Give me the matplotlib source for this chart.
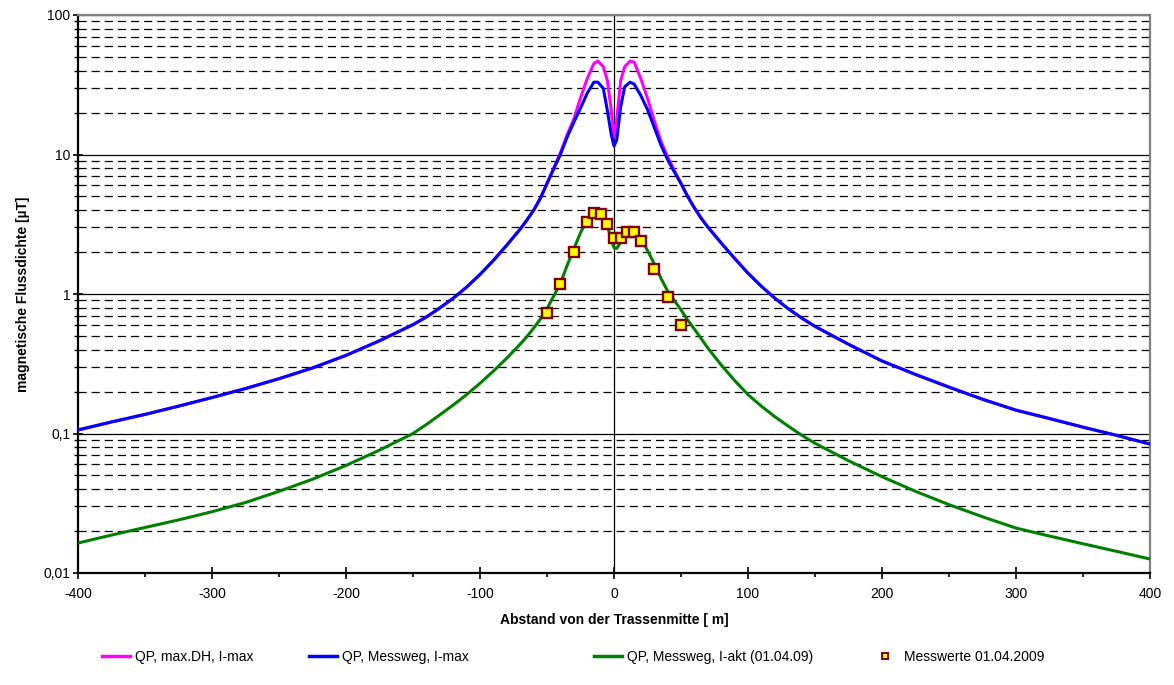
import matplotlib.pyplot as plt
from matplotlib.ticker import FixedLocator, FuncFormatter, MultipleLocator
from matplotlib.lines import Line2D

plt.rcParams['font.family'] = ['Liberation Sans', 'DejaVu Sans']
plt.rcParams['axes.unicode_minus'] = False

# Abstand von der Trassenmitte [m]
abstand = [-400, -375, -350, -325, -300, -275, -250, -225, -200, -175, -150,
           -140, -130, -120, -110, -100, -90, -80,
           -70, -65, -60, -55, -50, -45, -40, -35, -30, -25, -20, -15,
           -12, -8, -5, -2, 0, 2, 5, 8, 12,
           15, 20, 25, 30, 35, 40, 45, 50, 55, 60, 65, 70,
           80, 90, 100, 110, 120, 130, 140,
           150, 175, 200, 225, 250, 275, 300, 325, 350, 375, 400]

# QP, max.DH, I-max
b_maxdh = [0.106, 0.121, 0.137, 0.157, 0.181, 0.21, 0.247, 0.295, 0.363, 0.462, 0.603,
           0.684, 0.794, 0.933, 1.12, 1.38, 1.74, 2.24,
           2.92, 3.39, 3.98, 4.84, 6.2, 8.0, 10.3, 13.8, 18.0, 25.5, 35.0, 45.0,
           46.8, 42.6, 34.0, 20.8, 13.3, 17.7, 34.0, 42.6, 46.8,
           46.0, 35.0, 25.3, 17.5, 12.5, 9.6, 7.7, 6.2, 5.0, 4.14, 3.5, 3.02,
           2.32, 1.8, 1.41, 1.135, 0.933, 0.785, 0.673,
           0.586, 0.436, 0.331, 0.265, 0.215, 0.176, 0.147, 0.128, 0.111, 0.097, 0.084]

# QP, Messweg, I-max
b_imax = [0.106, 0.121, 0.137, 0.157, 0.181, 0.21, 0.247, 0.295, 0.363, 0.462, 0.603,
          0.684, 0.794, 0.933, 1.12, 1.38, 1.74, 2.24,
          2.92, 3.39, 3.98, 4.84, 6.2, 7.87, 10.0, 13.3, 17.0, 21.5, 27.5, 33.0,
          33.0, 29.8, 20.8, 13.8, 11.5, 12.7, 22.0, 30.6, 33.0,
          32.0, 26.5, 21.0, 15.7, 11.7, 9.2, 7.5, 6.2, 5.0, 4.14, 3.5, 3.02,
          2.32, 1.8, 1.41, 1.135, 0.933, 0.785, 0.673,
          0.586, 0.436, 0.331, 0.265, 0.215, 0.176, 0.147, 0.128, 0.111, 0.097, 0.084]

# QP, Messweg, I-akt (01.04.09)
b_iakt = [0.0164, 0.0187, 0.0212, 0.024, 0.0275, 0.032, 0.0385, 0.047, 0.059, 0.076, 0.1,
          0.116, 0.136, 0.16, 0.19, 0.229, 0.28, 0.347,
          0.437, 0.495, 0.569, 0.66, 0.785, 0.966, 1.19, 1.6, 2.1, 2.75, 3.4, 3.9,
          3.95, 3.65, 3.1, 2.45, 2.15, 2.12, 2.35, 2.65, 2.85,
          2.8, 2.5, 2.05, 1.65, 1.3, 1.05, 0.9, 0.77, 0.65, 0.56, 0.48, 0.41,
          0.31, 0.24, 0.19, 0.157, 0.132, 0.113, 0.0973,
          0.0851, 0.0638, 0.049, 0.0385, 0.0309, 0.0253, 0.021, 0.0184, 0.0162, 0.0143, 0.0126]

# Messwerte 01.04.2009
mess_x = [-50, -40, -30, -20, -15, -10, -5, 0, 5, 10, 15, 20, 30, 40, 50]
mess_y = [0.73, 1.17, 2.0, 3.3, 3.8, 3.75, 3.15, 2.5, 2.5, 2.8, 2.8, 2.4, 1.5, 0.95, 0.6]

W, H = 1174, 685
fig = plt.figure(figsize=(W / 100, H / 100), dpi=100)
ax = fig.add_axes([78 / W, 1 - 573 / H, (1150 - 78) / W, (573 - 15) / H])

ax.set_yscale('log')
ax.set_xlim(-400, 400)
ax.set_ylim(0.01, 100)

# Gitternetz
ax.yaxis.set_major_locator(FixedLocator([0.01, 0.1, 1, 10, 100]))
minors = [m * d for d in [0.01, 0.1, 1, 10] for m in range(2, 10)]
ax.yaxis.set_minor_locator(FixedLocator(minors))
ax.yaxis.set_major_formatter(FuncFormatter(lambda v, p: f"{v:g}".replace('.', ',')))
ax.yaxis.set_minor_formatter(FuncFormatter(lambda v, p: ''))
ax.grid(which='major', axis='y', color='black', lw=0.9, ls='-')
ax.grid(which='minor', axis='y', color='black', lw=0.9, ls=(0, (6.5, 4)))
ax.axvline(0, color='black', lw=0.9, zorder=1.5)

ax.xaxis.set_major_locator(MultipleLocator(100))
ax.xaxis.set_minor_locator(MultipleLocator(50))
ax.tick_params(axis='x', which='major', direction='inout', length=8, width=1.2, labelsize=10, pad=6)
ax.tick_params(axis='x', which='minor', direction='out', length=3, width=1.2)
ax.tick_params(axis='y', which='major', direction='inout', length=7, width=1.2, labelsize=10, pad=2)
ax.tick_params(axis='y', which='minor', direction='out', length=3, width=1.0)

for s in ['left', 'bottom']:
    ax.spines[s].set_color('black')
    ax.spines[s].set_linewidth(1.6)
for s in ['top', 'right']:
    ax.spines[s].set_color('#808080')
    ax.spines[s].set_linewidth(1.6)

ax.plot(abstand, b_maxdh, color='#FF00FF', lw=2.2, zorder=3)
ax.plot(abstand, b_imax, color='#0000FF', lw=2.2, zorder=4)
ax.plot(abstand, b_iakt, color='#008000', lw=2.2, zorder=4)
ax.plot(mess_x, mess_y, ls='none', marker='s', ms=6.5, mfc='yellow', mec='#800000', mew=1.7, zorder=5)

ax.set_xlabel('Abstand von der Trassenmitte [ m]', fontsize=10, fontweight='bold', labelpad=9)
ax.set_ylabel('magnetische Flussdichte [µT]', fontsize=10, fontweight='bold', labelpad=10)

# Legende (einzeln platziert wie im Original)
handles = [
    Line2D([], [], color='#FF00FF', lw=2.5),
    Line2D([], [], color='#0000FF', lw=2.5),
    Line2D([], [], color='#008000', lw=2.5),
    Line2D([], [], ls='none', marker='s', ms=4.5, mfc='yellow', mec='#800000', mew=1.4),
]
labels = ['QP, max.DH, I-max', 'QP, Messweg, I-max', 'QP, Messweg, I-akt (01.04.09)', 'Messwerte 01.04.2009']
starts = [102, 309, 594, 871]
for h, l, x0 in zip(handles, labels, starts):
    leg = fig.legend([h], [l], loc='center left', bbox_to_anchor=(x0 / W, 1 - 657 / H),
                     frameon=False, fontsize=10, borderpad=0, borderaxespad=0,
                     handlelength=2, handletextpad=0.4)

fig.savefig('out.png', dpi=100)
